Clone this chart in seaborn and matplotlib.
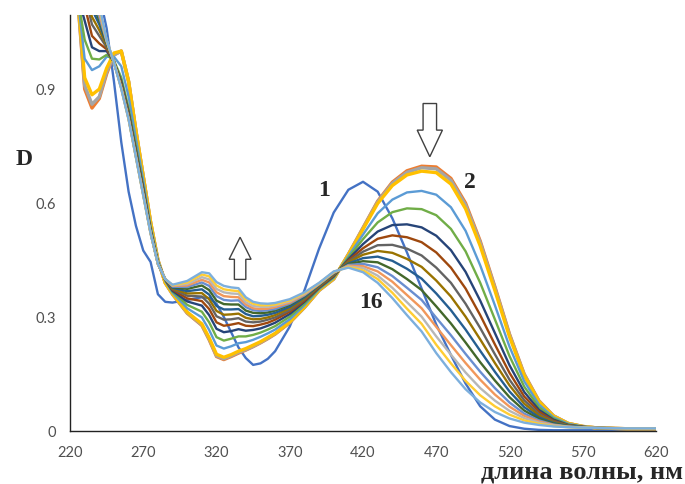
import matplotlib
matplotlib.use("Agg")
import matplotlib.pyplot as plt
import pandas as pd
import seaborn as sns
from matplotlib.patches import Polygon

# wavelength grid, nm
wavelength = [225, 230, 235, 240, 245, 250, 255, 260, 265, 270, 275, 280, 285,
              290, 300, 310, 315, 320, 325, 330, 335, 340, 345, 350, 355, 360,
              370, 380, 390, 400, 410, 420, 430, 440, 450, 460, 470, 480, 490,
              500, 510, 520, 530, 540, 550, 560, 570, 580, 600, 620]

# absorbance D of the 17 recorded spectra
d01 = [1.2, 1.2, 1.2, 1.15, 1.06, 0.92, 0.76, 0.63, 0.54, 0.475, 0.445, 0.36, 0.34,
       0.338, 0.345, 0.352, 0.35, 0.335, 0.30, 0.26, 0.22, 0.192, 0.174, 0.178, 0.19, 0.21,
       0.275, 0.37, 0.48, 0.575, 0.635, 0.656, 0.63, 0.56, 0.47, 0.375, 0.28, 0.20, 0.125,
       0.065, 0.03, 0.013, 0.006, 0.003, 0.002, 0.002, 0.002, 0.002, 0.002, 0.002]
d02 = [1.15, 0.90, 0.85, 0.875, 0.94, 0.99, 1.00, 0.92, 0.79, 0.67, 0.55, 0.45, 0.39,
       0.36, 0.31, 0.278, 0.24, 0.196, 0.188, 0.196, 0.205, 0.213, 0.222, 0.232, 0.243, 0.255,
       0.285, 0.325, 0.37, 0.40, 0.465, 0.535, 0.605, 0.655, 0.685, 0.697, 0.695, 0.665, 0.60,
       0.50, 0.38, 0.255, 0.15, 0.08, 0.04, 0.02, 0.012, 0.008, 0.006, 0.006]
d03 = [1.15, 0.91, 0.86, 0.88, 0.945, 0.99, 1.0, 0.92, 0.79, 0.67, 0.55, 0.45, 0.39,
       0.360, 0.311, 0.279, 0.242, 0.198, 0.190, 0.198, 0.207, 0.214, 0.223, 0.233, 0.244, 0.256,
       0.286, 0.325, 0.370, 0.400, 0.465, 0.534, 0.603, 0.652, 0.681, 0.693, 0.690, 0.660, 0.595,
       0.496, 0.377, 0.253, 0.149, 0.079, 0.040, 0.020, 0.012, 0.008, 0.006, 0.006]
d04 = [1.15, 0.93, 0.885, 0.90, 0.955, 0.995, 1.0, 0.92, 0.79, 0.67, 0.55, 0.45, 0.39,
       0.361, 0.313, 0.282, 0.245, 0.202, 0.194, 0.201, 0.210, 0.217, 0.226, 0.235, 0.246, 0.257,
       0.287, 0.326, 0.371, 0.401, 0.464, 0.531, 0.599, 0.646, 0.674, 0.684, 0.680, 0.650, 0.585,
       0.487, 0.370, 0.248, 0.146, 0.078, 0.039, 0.020, 0.012, 0.008, 0.006, 0.006]
d05 = [1.15, 0.98, 0.95, 0.96, 0.985, 0.985, 0.96, 0.88, 0.77, 0.66, 0.54, 0.45, 0.395,
       0.364, 0.323, 0.299, 0.266, 0.225, 0.217, 0.223, 0.231, 0.234, 0.240, 0.248, 0.257, 0.267,
       0.294, 0.331, 0.373, 0.403, 0.460, 0.517, 0.573, 0.609, 0.628, 0.632, 0.622, 0.589, 0.527,
       0.436, 0.331, 0.222, 0.131, 0.070, 0.036, 0.019, 0.012, 0.008, 0.006, 0.006]
d06 = [1.15, 1.03, 0.98, 0.978, 0.99, 0.975, 0.93, 0.85, 0.75, 0.645, 0.535, 0.445, 0.397,
       0.367, 0.332, 0.314, 0.286, 0.247, 0.238, 0.243, 0.249, 0.249, 0.253, 0.259, 0.267, 0.276,
       0.301, 0.335, 0.375, 0.405, 0.456, 0.505, 0.549, 0.576, 0.586, 0.584, 0.568, 0.532, 0.473,
       0.390, 0.294, 0.197, 0.117, 0.063, 0.033, 0.017, 0.011, 0.008, 0.006, 0.006]
d07 = [1.15, 1.08, 1.01, 1.0, 1.0, 0.972, 0.92, 0.84, 0.74, 0.64, 0.53, 0.443, 0.398,
       0.369, 0.341, 0.330, 0.305, 0.269, 0.260, 0.263, 0.268, 0.264, 0.266, 0.270, 0.277, 0.285,
       0.308, 0.340, 0.377, 0.407, 0.452, 0.492, 0.525, 0.542, 0.544, 0.536, 0.514, 0.476, 0.419,
       0.343, 0.258, 0.173, 0.103, 0.056, 0.030, 0.016, 0.011, 0.008, 0.006, 0.006]
d08 = [1.15, 1.12, 1.04, 1.02, 1.005, 0.972, 0.915, 0.835, 0.735, 0.635, 0.528, 0.442, 0.399,
       0.372, 0.349, 0.342, 0.321, 0.286, 0.277, 0.280, 0.284, 0.277, 0.276, 0.280, 0.285, 0.293,
       0.314, 0.343, 0.379, 0.409, 0.449, 0.481, 0.506, 0.515, 0.510, 0.497, 0.470, 0.430, 0.375,
       0.305, 0.228, 0.153, 0.091, 0.051, 0.027, 0.015, 0.011, 0.008, 0.006, 0.006]
d09 = [1.15, 1.15, 1.07, 1.04, 1.01, 0.971, 0.912, 0.83, 0.73, 0.63, 0.526, 0.441, 0.399,
       0.374, 0.356, 0.354, 0.335, 0.302, 0.293, 0.294, 0.297, 0.288, 0.286, 0.288, 0.293, 0.299,
       0.318, 0.347, 0.381, 0.411, 0.446, 0.472, 0.489, 0.490, 0.480, 0.462, 0.430, 0.390, 0.335,
       0.271, 0.202, 0.135, 0.081, 0.045, 0.025, 0.015, 0.010, 0.008, 0.006, 0.007]
d10 = [1.15, 1.15, 1.09, 1.055, 1.015, 0.971, 0.91, 0.828, 0.728, 0.628, 0.525, 0.441, 0.40,
       0.375, 0.362, 0.363, 0.347, 0.316, 0.306, 0.307, 0.309, 0.298, 0.294, 0.295, 0.299, 0.305,
       0.323, 0.349, 0.382, 0.412, 0.444, 0.464, 0.474, 0.469, 0.453, 0.432, 0.396, 0.354, 0.301,
       0.241, 0.179, 0.120, 0.072, 0.041, 0.023, 0.014, 0.010, 0.008, 0.006, 0.007]
d11 = [1.15, 1.15, 1.11, 1.07, 1.02, 0.97, 0.907, 0.826, 0.726, 0.626, 0.524, 0.44, 0.40,
       0.377, 0.368, 0.373, 0.359, 0.329, 0.320, 0.320, 0.321, 0.308, 0.302, 0.303, 0.306, 0.311,
       0.327, 0.352, 0.384, 0.414, 0.441, 0.455, 0.459, 0.448, 0.427, 0.401, 0.362, 0.318, 0.267,
       0.211, 0.156, 0.104, 0.063, 0.036, 0.021, 0.013, 0.010, 0.008, 0.007, 0.007]
d12 = [1.15, 1.15, 1.13, 1.08, 1.022, 0.97, 0.905, 0.824, 0.724, 0.624, 0.523, 0.44, 0.40,
       0.379, 0.374, 0.383, 0.371, 0.343, 0.334, 0.333, 0.333, 0.317, 0.311, 0.310, 0.312, 0.317,
       0.332, 0.355, 0.385, 0.415, 0.439, 0.447, 0.444, 0.426, 0.400, 0.371, 0.328, 0.283, 0.233,
       0.181, 0.133, 0.089, 0.054, 0.032, 0.019, 0.013, 0.010, 0.008, 0.007, 0.007]
d13 = [1.15, 1.15, 1.14, 1.09, 1.025, 0.97, 0.904, 0.823, 0.723, 0.623, 0.522, 0.44, 0.40,
       0.380, 0.379, 0.391, 0.382, 0.355, 0.345, 0.343, 0.344, 0.326, 0.318, 0.316, 0.318, 0.321,
       0.335, 0.357, 0.386, 0.416, 0.437, 0.440, 0.431, 0.408, 0.377, 0.345, 0.298, 0.252, 0.203,
       0.156, 0.113, 0.075, 0.046, 0.028, 0.017, 0.012, 0.010, 0.008, 0.007, 0.007]
d14 = [1.15, 1.15, 1.15, 1.10, 1.027, 0.97, 0.903, 0.822, 0.722, 0.622, 0.521, 0.44, 0.40,
       0.382, 0.383, 0.398, 0.391, 0.365, 0.355, 0.353, 0.352, 0.333, 0.323, 0.321, 0.322, 0.326,
       0.338, 0.359, 0.387, 0.417, 0.435, 0.434, 0.420, 0.393, 0.358, 0.323, 0.274, 0.226, 0.179,
       0.135, 0.096, 0.064, 0.040, 0.025, 0.016, 0.011, 0.009, 0.008, 0.007, 0.007]
d15 = [1.15, 1.15, 1.15, 1.11, 1.028, 0.97, 0.902, 0.821, 0.721, 0.621, 0.52, 0.44, 0.40,
       0.383, 0.387, 0.405, 0.399, 0.374, 0.365, 0.362, 0.361, 0.339, 0.329, 0.327, 0.327, 0.330,
       0.341, 0.361, 0.388, 0.418, 0.433, 0.429, 0.409, 0.377, 0.339, 0.301, 0.249, 0.201, 0.154,
       0.113, 0.080, 0.053, 0.034, 0.022, 0.015, 0.011, 0.009, 0.008, 0.007, 0.007]
d16 = [1.15, 1.15, 1.15, 1.115, 1.029, 0.97, 0.901, 0.82, 0.72, 0.62, 0.52, 0.44, 0.40,
       0.384, 0.391, 0.412, 0.407, 0.383, 0.373, 0.370, 0.368, 0.346, 0.335, 0.331, 0.331, 0.333,
       0.344, 0.363, 0.389, 0.419, 0.432, 0.423, 0.400, 0.364, 0.322, 0.282, 0.227, 0.178, 0.132,
       0.094, 0.065, 0.043, 0.028, 0.019, 0.013, 0.010, 0.009, 0.008, 0.007, 0.007]
d17 = [1.15, 1.15, 1.15, 1.12, 1.03, 0.97, 0.90, 0.82, 0.72, 0.62, 0.52, 0.44, 0.40,
       0.385, 0.395, 0.418, 0.415, 0.392, 0.382, 0.378, 0.376, 0.352, 0.340, 0.336, 0.335, 0.337,
       0.347, 0.365, 0.39, 0.42, 0.43, 0.418, 0.39, 0.35, 0.305, 0.262, 0.205, 0.155, 0.11,
       0.075, 0.05, 0.033, 0.022, 0.016, 0.012, 0.01, 0.009, 0.008, 0.007, 0.007]

spectra = [d01, d02, d03, d04, d05, d06, d07, d08, d09, d10, d11, d12, d13, d14, d15, d16, d17]
colors = ["#4472C4", "#ED7D31", "#A5A5A5", "#FFC000", "#5B9BD5", "#70AD47", "#264478",
          "#9E480E", "#636363", "#997300", "#255E91", "#43682B", "#698ED0", "#F1975A",
          "#B7B7B7", "#FFCD33", "#7CAFDD"]

x_ticks = [220, 270, 320, 370, 420, 470, 520, 570, 620]
y_ticks = [0, 0.3, 0.6, 0.9]
y_tick_labels = ["0", "0.3", "0.6", "0.9"]

sns.set_style("white")
fig = plt.figure(figsize=(6.85, 4.84), dpi=100)
ax = fig.add_axes([0.1022, 0.1095, 0.8555, 0.8595])

for i, (vals, col) in enumerate(zip(spectra, colors)):
    df = pd.DataFrame({"nm": wavelength, "D": vals})
    lw = 2.4 if i in (1, 2, 3) else 1.7
    sns.lineplot(data=df, x="nm", y="D", color=col, linewidth=lw, ax=ax,
                 legend=False, sort=False, zorder=2 + i * 0.01)

ax.set_xlim(220, 620)
ax.set_ylim(0, 1.095)
ax.set_xticks(x_ticks)
ax.set_xticklabels([str(t) for t in x_ticks])
ax.set_yticks(y_ticks)
ax.set_yticklabels(y_tick_labels)
ax.set_xlabel("")
ax.set_ylabel("")
for s in ["top", "right"]:
    ax.spines[s].set_visible(False)
for s in ["left", "bottom"]:
    ax.spines[s].set_color("#222222")
    ax.spines[s].set_linewidth(1.0)
ax.tick_params(axis="x", direction="in", length=5, width=0.8, color="#333333",
               pad=11, labelsize=10.5, labelcolor="#505050")
ax.tick_params(axis="y", direction="in", length=5, width=0.8, color="#333333",
               pad=10, labelsize=10.5, labelcolor="#505050")
for lab in ax.get_xticklabels() + ax.get_yticklabels():
    lab.set_family("Lato")

serif = "Liberation Serif"
# curve numbers
ax.text(393.4, 0.634, "1", fontsize=17, fontweight="bold", family=serif,
        ha="center", va="center", zorder=6)
ax.text(493.0, 0.653, "2", fontsize=17, fontweight="bold", family=serif,
        ha="center", va="center", zorder=6)
ax.text(425.5, 0.337, "16", fontsize=17, fontweight="bold", family=serif,
        ha="center", va="center", zorder=6)

# hollow block arrows
down = Polygon([(461.0, 0.862), (470.2, 0.862), (470.2, 0.792), (474.2, 0.792),
                (465.6, 0.722), (457.0, 0.792), (461.0, 0.792)], closed=True,
               facecolor="white", edgecolor="#404040", linewidth=1.0, zorder=6)
up = Polygon([(332.2, 0.399), (340.0, 0.399), (340.0, 0.452), (343.6, 0.452),
              (336.1, 0.51), (328.6, 0.452), (332.2, 0.452)], closed=True,
             facecolor="white", edgecolor="#404040", linewidth=1.0, zorder=6)
ax.add_patch(down)
ax.add_patch(up)

fig.text(0.035, 0.671, "D", fontsize=17, fontweight="bold", family=serif,
         ha="center", va="center")
fig.text(0.997, 0.011, "длина волны, нм", fontsize=19, fontweight="bold",
         family=serif, ha="right", va="baseline")

fig.savefig("out.png", dpi=100)
